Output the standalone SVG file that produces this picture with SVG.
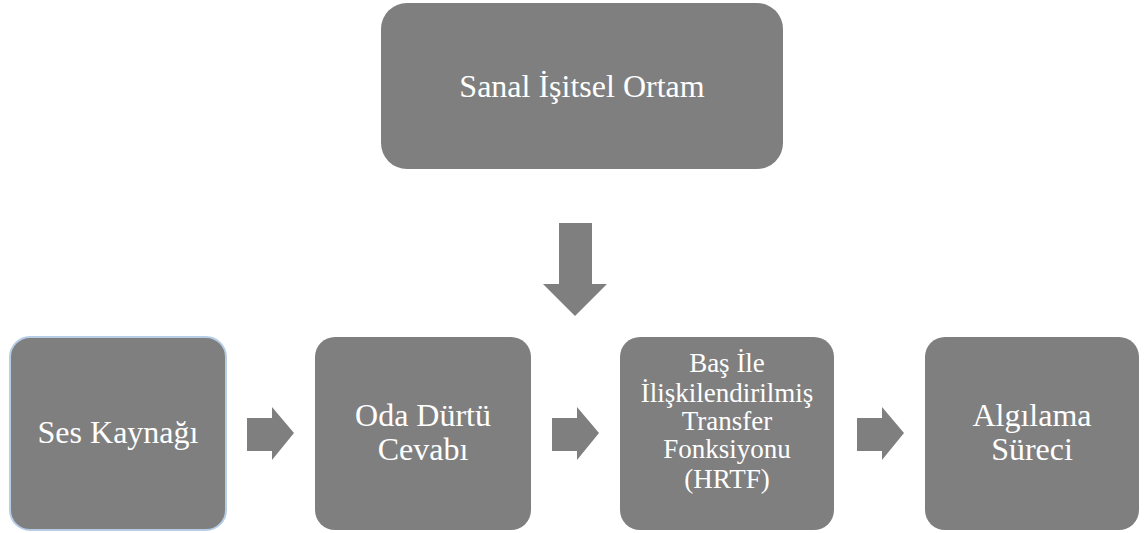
<svg xmlns="http://www.w3.org/2000/svg" width="1145" height="533" viewBox="0 0 1145 533">
<style>
.box{fill:#7f7f7f;}
.t{fill:#ffffff;font-family:"Liberation Serif","Times New Roman",serif;font-size:32px;text-anchor:middle;}
.ts{fill:#ffffff;font-family:"Liberation Serif","Times New Roman",serif;font-size:27px;text-anchor:middle;}
.arr{fill:#7f7f7f;}
</style>
<rect width="1145" height="533" fill="#ffffff"/>
<g id="n-sanal">
<rect class="box" x="381" y="3" width="402" height="166" rx="26"/>
<text class="t" x="582" y="97">Sanal İşitsel Ortam</text>
</g>
<g id="n-ses">
<rect class="box" x="10" y="337" width="216" height="193" rx="20" stroke="#b7cde6" stroke-width="2"/>
<text class="t" x="118" y="443">Ses Kaynağı</text>
</g>
<g id="n-oda">
<rect class="box" x="315" y="337" width="216" height="193" rx="20"/>
<text class="t" x="423" y="426">Oda Dürtü</text>
<text class="t" x="423" y="460">Cevabı</text>
</g>
<g id="n-hrtf">
<rect class="box" x="620" y="337" width="214" height="193" rx="20"/>
<text class="ts" x="727" y="372">Baş İle</text>
<text class="ts" x="727" y="402">İlişkilendirilmiş</text>
<text class="ts" x="727" y="430">Transfer</text>
<text class="ts" x="727" y="458">Fonksiyonu</text>
<text class="ts" x="727" y="488">(HRTF)</text>
</g>
<g id="n-algilama">
<rect class="box" x="925" y="337" width="214" height="193" rx="20"/>
<text class="t" x="1032" y="426">Algılama</text>
<text class="t" x="1032" y="460">Süreci</text>
</g>
<g id="connectors">
<polygon class="arr" points="559,223 592,223 592,284 607,284 575,316 543,284 559,284"/>
<polygon class="arr" points="247,418 272,418 272,407 294,433 272,460 272,451 247,451"/>
<polygon class="arr" points="552,418 577,418 577,407 599,433 577,460 577,451 552,451"/>
<polygon class="arr" points="857,418 882,418 882,407 904,433 882,460 882,451 857,451"/>
</g>
</svg>
